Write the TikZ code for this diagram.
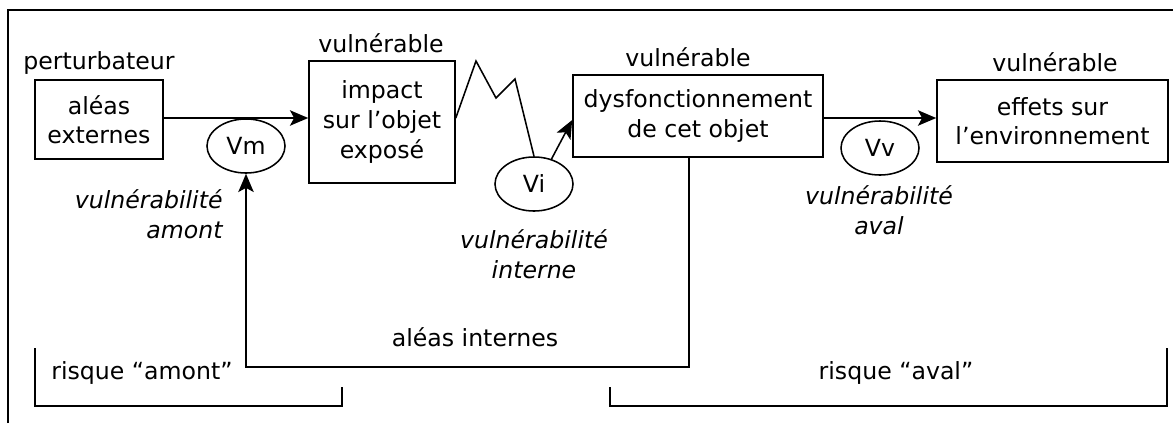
\documentclass[tikz,border=0pt]{standalone}
\usepackage{fontspec}
\setmainfont{DejaVu Sans}
\usetikzlibrary{arrows.meta,shapes.geometric}

\begin{document}
\begin{tikzpicture}[x=0.025cm, y=-0.025cm, line width=1.1pt,
		font=\fontsize{16.8}{21}\selectfont,
		boite/.style={draw, rectangle, align=center, inner sep=0pt},
		vuln/.style={draw, ellipse, minimum width=1.95cm, minimum height=1.35cm, inner sep=0pt},
		fleche/.style={-{Stealth[length=13pt, width=11pt, inset=3pt]}},
		legende/.style={font=\fontsize{16.8}{21}\selectfont\itshape}]
	\useasboundingbox (0, 0) rectangle (1173, 423);
	% cadre
	\draw [line width=1.6pt] (8, 423) -- (8, 10) -- (1173, 10);
	% boites
	\node [boite, minimum width=3.2cm, minimum height=1.975cm] (aleas) at (99, 119.5) {aléas\\externes};
	\node [boite, minimum width=3.65cm, minimum height=3.05cm] (impact) at (382, 122) {impact\\sur l’objet\\exposé};
	\node [boite, minimum width=6.25cm, minimum height=2.05cm] (dysf) at (698, 116) {dysfonctionnement\\de cet objet};
	\node [boite, minimum width=5.775cm, minimum height=2.05cm] (effets) at (1052.5, 121) {effets sur\\l’environnement};
	\node (pert) at (99, 63) {perturbateur};
	\node (vulnA) at (381, 43) {vulnérable};
	\node (vulnB) at (688, 57) {vulnérable};
	\node (vulnC) at (1055, 62) {vulnérable};
	% vulnerabilites
	\node [vuln] (vm) at (246, 146) {Vm};
	\node [vuln] (vi) at (534, 184) {Vi};
	\node [vuln] (vv) at (880, 148) {Vv};
	\node [legende, align=right, anchor=east] (lvm) at (228, 214) {vulnérabilité\\amont};
	\node [legende, align=center] (lvi) at (534, 254) {vulnérabilité\\interne};
	\node [legende, align=center] (lvv) at (879, 210) {vulnérabilité\\aval};
	% fleches
	\draw [fleche] (aleas.east |- 0, 118) -- (impact.west |- 0, 118);
	\draw [fleche] (dysf.east |- 0, 118) -- (effets.west |- 0, 118);
	\draw (impact.east |- 0, 118) -- (476, 61) -- (496, 98) -- (515, 79) -- (vi.north);
	\draw [fleche] (vi.55) -- (dysf.west |- 0, 120);
	\coordinate (retour) at (689, 367);
	\node (internes) at (475, 337) {aléas internes};
	\draw [fleche] (dysf.south -| retour) -- (retour) -- (retour -| vm) -- (vm.south);
	% risques
	\draw (35, 348) -- (35, 406) -- (342, 406) -- (342, 387);
	\node (ramont) at (142, 373) {risque “amont”};
	\draw (610, 387) -- (610, 406) -- (1167, 406) -- (1167, 348);
	\node (raval) at (896, 373) {risque “aval”};
\end{tikzpicture}
\end{document}
